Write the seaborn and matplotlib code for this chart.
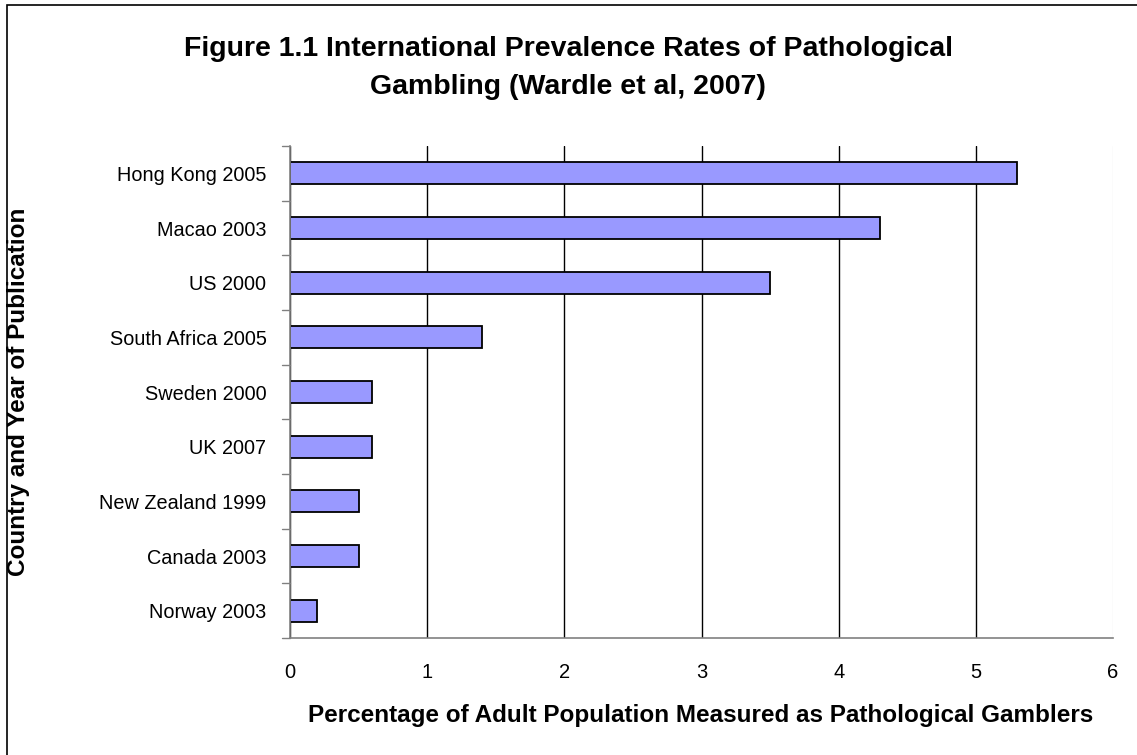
import matplotlib
matplotlib.use("Agg")
import matplotlib.pyplot as plt
import seaborn as sns
import pandas as pd
from matplotlib.patches import Rectangle

countries = ["Hong Kong 2005", "Macao 2003", "US 2000", "South Africa 2005",
             "Sweden 2000", "UK 2007", "New Zealand 1999", "Canada 2003", "Norway 2003"]
prevalence = [5.3, 4.3, 3.5, 1.4, 0.6, 0.6, 0.5, 0.5, 0.2]
x_ticks = [0, 1, 2, 3, 4, 5, 6]

df = pd.DataFrame({"country": countries, "value": prevalence})

sns.set_theme(style="white")
plt.rcParams["font.family"] = ["Liberation Sans", "DejaVu Sans"]
plt.rcParams["text.color"] = "black"
plt.rcParams["axes.labelcolor"] = "black"
plt.rcParams["xtick.color"] = "black"
plt.rcParams["ytick.color"] = "black"

W, H = 1137, 755
fig = plt.figure(figsize=(W / 100, H / 100), dpi=100)
ax = fig.add_axes([290 / W, 1 - 638 / H, (1113 - 290) / W, (638 - 146) / H])

sns.barplot(data=df, x="value", y="country", orient="h", ax=ax,
            color="#9999FF", saturation=1, width=0.4,
            edgecolor="black", linewidth=1.3, zorder=3)

ax.set_xlim(0, 6)
ax.set_ylim(len(countries) - 0.5, -0.5)
ax.set_xticks(x_ticks)
ax.set_xticklabels([str(t) for t in x_ticks], fontsize=14.5)
ax.set_yticks(range(len(countries)))
ax.set_yticklabels(countries, fontsize=14.3)
ax.tick_params(axis="y", length=0, pad=17)
ax.tick_params(axis="x", length=8, width=1, color="#808080", pad=10, direction="out")

# y ticks at category boundaries
for b in [i - 0.5 for i in range(len(countries) + 1)]:
    ax.plot([-0.058, 0], [b, b], color="#808080", lw=1, clip_on=False, zorder=4)

ax.grid(axis="x", color="black", lw=1, zorder=0)
ax.get_xgridlines()[-1].set_color("#eeeeee")
for s in ["top", "right"]:
    ax.spines[s].set_visible(False)
for s in ["left", "bottom"]:
    ax.spines[s].set_color("#808080")
    ax.spines[s].set_linewidth(1.2)
    ax.spines[s].set_zorder(5)

ax.set_xlabel("")
ax.set_ylabel("")
fig.text(701 / W, 1 - 722 / H,
         "Percentage of Adult Population Measured as Pathological Gamblers",
         ha="center", va="baseline", fontsize=17.5, fontweight="bold")
fig.text(19 / W, 1 - 392 / H, "Country and Year of Publication",
         ha="center", va="center", rotation=90, fontsize=17.5, fontweight="bold")

fig.text(568 / W, 1 - 68 / H,
         "Figure 1.1 International Prevalence Rates of Pathological\nGambling (Wardle et al, 2007)",
         ha="center", va="center", fontsize=20.5, fontweight="bold", linespacing=1.55)

fig.patches.append(Rectangle((7 / W, -0.1), 1.2, 1 - 5 / H + 0.1, transform=fig.transFigure,
                             fill=False, edgecolor="black", lw=1.2))

fig.savefig("out.png", dpi=100, facecolor="white")
